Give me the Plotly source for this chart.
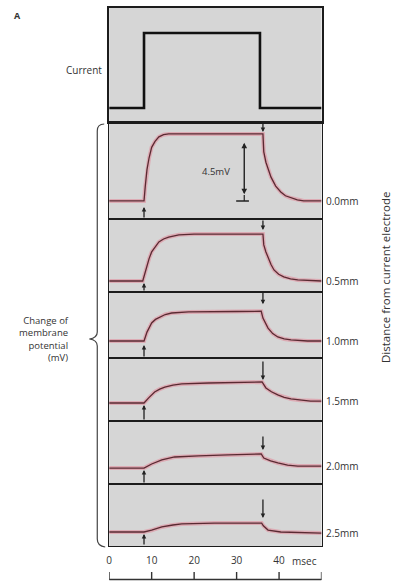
import plotly.graph_objects as go

W, H = 393, 581

# ---------------- data ----------------
time_current = [0, 8.2, 35.5, 50]
current_level = [0, 1, 0, 0]

t_00 = [0, 8.2, 8.5, 8.9, 9.4, 10.0, 10.8, 11.7, 12.8, 14.0, 20, 30, 36.2, 36.4, 36.9, 37.5, 38.1, 39.2, 40.4, 41.5, 42.8, 44.3, 45.8, 50]
v_00 = [0, 0, 1.0, 2.1, 2.9, 3.6, 4.0, 4.3, 4.45, 4.5, 4.5, 4.5, 4.5, 3.3, 2.6, 2.1, 1.6, 1.0, 0.6, 0.35, 0.2, 0.08, 0, 0]

t_05 = [0, 7.9, 8.4, 8.9, 9.4, 10.0, 10.8, 11.7, 12.8, 14.0, 16.4, 20, 36.2, 36.4, 36.9, 37.4, 38.1, 38.8, 39.9, 41.1, 42.7, 44.4, 50]
v_05 = [0, 0, 0.5, 1.07, 1.5, 1.95, 2.3, 2.62, 2.82, 2.95, 3.1, 3.15, 3.15, 2.42, 1.95, 1.54, 1.1, 0.74, 0.45, 0.27, 0.14, 0.07, 0]

t_10 = [0, 8.2, 8.9, 10.0, 10.9, 11.9, 13.2, 14.7, 18.7, 30, 35.8, 36.2, 36.8, 37.4, 38.5, 39.7, 41.2, 42.8, 46.7, 50]
v_10 = [0, 0, 0.6, 1.21, 1.45, 1.61, 1.78, 1.88, 1.95, 1.98, 2.0, 1.54, 1.2, 0.87, 0.5, 0.27, 0.14, 0.07, 0, 0]

t_15 = [0, 8.2, 9.3, 10.7, 11.9, 13.1, 15.0, 17.1, 23.4, 30, 36.0, 36.9, 38.2, 39.7, 41.2, 42.8, 45.0, 47.4, 50]
v_15 = [0, 0, 0.34, 0.74, 0.93, 1.07, 1.2, 1.28, 1.34, 1.38, 1.41, 1.01, 0.75, 0.54, 0.38, 0.27, 0.18, 0.13, 0.13]

t_20 = [0, 8.2, 10.0, 12.4, 15.4, 18.0, 21.0, 28.0, 35.8, 36.4, 38.0, 39.7, 42.0, 44.4, 50]
v_20 = [0, 0, 0.27, 0.54, 0.74, 0.79, 0.81, 0.88, 0.94, 0.67, 0.48, 0.34, 0.2, 0.13, 0.13]

t_25 = [0, 8.2, 10.0, 12.4, 15.0, 17.1, 24.8, 35.9, 36.3, 37.4, 40.4, 50]
v_25 = [0, 0, 0.12, 0.34, 0.47, 0.54, 0.6, 0.6, 0.42, 0.13, 0.0, -0.07]

voltage_times = [t_00, t_05, t_10, t_15, t_20, t_25]
voltage_values = [v_00, v_05, v_10, v_15, v_20, v_25]
distance_labels = ["0.0mm", "0.5mm", "1.0mm", "1.5mm", "2.0mm", "2.5mm"]

tick_vals = [0, 10, 20, 30, 40]
tick_text = ["0", "10", "20", "30", "40"]
ruler_ticks = [0, 10, 20, 30, 40, 50]

stim_on, stim_off = 8.2, 36.2
scale_mv = 4.5

# ---------------- layout helpers ----------------
def px(x):
    return x / W

def py(y):
    return 1 - y / H

X_L, X_R = 107, 321
panels = [(8, 122), (122, 219), (219, 292), (292, 358), (358, 421), (421, 484), (484, 546)]
yranges = [[-0.187, 1.333], [-1.21, 5.30], [-0.74, 4.16], [-1.14, 3.29],
           [-1.21, 3.02], [-1.07, 3.15], [-0.94, 3.22]]

# arrow geometry: (tip offset in mV, tail length px)
up_arrows = [(-0.4, 12), (-0.13, 9), (-0.27, 13), (-0.13, 16), (-0.13, 14), (-0.13, 12)]
down_arrows = [(0.13, 10), (0.27, 11), (0.47, 13), (0.13, 20), (0.27, 15), (0.34, 20)]

fig = go.Figure()

FONT = "Open Sans"
TXT = "#333333"
LINE = "#1c1c1c"

fig.add_trace(go.Scatter(x=time_current, y=current_level, mode="lines", line_shape="hv",
                         line=dict(color="#111111", width=2.6), xaxis="x", yaxis="y",
                         hoverinfo="skip", showlegend=False))

for i, (tt, vv) in enumerate(zip(voltage_times, voltage_values)):
    n = i + 2
    fig.add_trace(go.Scatter(x=tt, y=vv, mode="lines",
                             line=dict(color="rgba(228,120,140,0.45)", width=4),
                             xaxis=f"x{n}", yaxis=f"y{n}", hoverinfo="skip", showlegend=False))
    fig.add_trace(go.Scatter(x=tt, y=vv, mode="lines",
                             line=dict(color="#5a2a32", width=1.3),
                             xaxis=f"x{n}", yaxis=f"y{n}", hoverinfo="skip", showlegend=False))

layout = dict(width=W, height=H, autosize=False,
              margin=dict(l=0, r=0, t=0, b=0, pad=0),
              paper_bgcolor="white", plot_bgcolor="#d6d6d6",
              showlegend=False, font=dict(family=FONT, color=TXT, size=10))

for k, (top, bot) in enumerate(panels):
    n = k + 1
    xs = "" if n == 1 else str(n)
    is_bottom = (n == 7)
    lw = 2.2 if n == 1 else 1.3
    layout[f"xaxis{xs}"] = dict(domain=[px(X_L), px(X_R)], range=[0, 50], anchor=f"y{xs}",
                                showgrid=False, zeroline=False, showline=True, mirror=True,
                                linecolor=LINE, linewidth=lw,
                                showticklabels=is_bottom,
                                tickvals=tick_vals if is_bottom else [],
                                ticktext=tick_text if is_bottom else [],
                                ticks="outside" if is_bottom else "",
                                ticklen=5, tickcolor="rgba(0,0,0,0)",
                                tickfont=dict(size=10, color=TXT, family=FONT),
                                fixedrange=True)
    layout[f"yaxis{xs}"] = dict(domain=[py(bot), py(top)], range=yranges[k], anchor=f"x{xs}",
                                showgrid=False, zeroline=False, showline=True, mirror=True,
                                linecolor=LINE, linewidth=lw,
                                showticklabels=False, ticks="", fixedrange=True)

fig.update_layout(**layout)

annotations = []
annotations.append(dict(text="<b>A</b>", x=px(15), y=py(15), xref="paper", yref="paper",
                        xanchor="center", yanchor="middle",
                        showarrow=False, font=dict(size=9, color=TXT, family=FONT)))
annotations.append(dict(text="Current", x=px(102), y=py(70), xref="paper", yref="paper",
                        xanchor="right", yanchor="middle", showarrow=False,
                        font=dict(size=10, color=TXT, family=FONT)))
annotations.append(dict(text="Change of<br>membrane<br>potential<br>(mV)", x=px(69), y=py(339),
                        xref="paper", yref="paper", xanchor="right", yanchor="middle",
                        align="right", showarrow=False,
                        font=dict(size=9.5, color=TXT, family=FONT)))
annotations.append(dict(text="Distance from current electrode", x=px(385), y=py(278),
                        xref="paper", yref="paper", textangle=-90, showarrow=False,
                        xanchor="center", yanchor="middle",
                        font=dict(size=11.5, color=TXT, family=FONT)))
annotations.append(dict(text="msec", x=46, y=py(561), xref="x7", yref="paper",
                        xanchor="center", yanchor="middle", showarrow=False,
                        font=dict(size=10, color=TXT, family=FONT)))

for i, (lab, vv) in enumerate(zip(distance_labels, voltage_values)):
    n = i + 2
    annotations.append(dict(text=lab, x=px(323), y=vv[-1], xref="paper", yref=f"y{n}",
                            xanchor="left", yanchor="middle", showarrow=False,
                            font=dict(size=10, color=TXT, family=FONT)))
    amp = max(vv)
    tip_up, len_up = up_arrows[i]
    annotations.append(dict(x=stim_on, y=tip_up, xref=f"x{n}", yref=f"y{n}", ax=0, ay=len_up,
                            text="", showarrow=True, arrowhead=2, arrowsize=0.7,
                            arrowwidth=1.3, arrowcolor="#222", standoff=0))
    tip_dn, len_dn = down_arrows[i]
    annotations.append(dict(x=stim_off, y=amp + tip_dn, xref=f"x{n}", yref=f"y{n}", ax=0,
                            ay=-len_dn, text="", showarrow=True, arrowhead=2, arrowsize=0.7,
                            arrowwidth=1.3, arrowcolor="#222", standoff=0))

# scale bar 4.5 mV in first voltage panel
annotations.append(dict(x=31.8, y=scale_mv * 0.87, ax=31.8, ay=0.35, xref="x2", yref="y2",
                        axref="x2", ayref="y2", text="", showarrow=True, arrowhead=2,
                        startarrowhead=2, arrowside="end+start", arrowsize=0.8,
                        startarrowsize=0.8, arrowwidth=1.4, arrowcolor="#222", standoff=0,
                        startstandoff=0))
annotations.append(dict(text=f"{scale_mv}mV", x=25.2, y=1.95, xref="x2", yref="y2",
                        xanchor="center", yanchor="middle",
                        showarrow=False, font=dict(size=9.5, color=TXT, family=FONT)))

fig.update_layout(annotations=annotations)

shapes = [
    dict(type="line", xref="x2", yref="y2", x0=29.9, x1=32.9, y0=0, y1=0,
         line=dict(color="#222", width=1.6)),
    dict(type="line", xref="x2", yref="y2", x0=31.8, x1=31.8, y0=0, y1=0.4,
         line=dict(color="#222", width=1.2)),
]

# time ruler below the axis labels, ticks placed on the x scale
shapes.append(dict(type="line", xref="x7", yref="paper", x0=ruler_ticks[0], x1=ruler_ticks[-1],
                   y0=py(579.5), y1=py(579.5), line=dict(color="#333", width=1.4)))
for tv in ruler_ticks:
    shapes.append(dict(type="line", xref="x7", yref="paper", x0=tv, x1=tv,
                       y0=py(580), y1=py(572), line=dict(color="#333", width=1.4)))

# left curly brace
def P(x, y):
    return f"{px(x):.5f},{py(y):.5f}"

brace = (f"M {P(102,124)} Q {P(95,124)} {P(95,131)} L {P(95,332)} "
         f"Q {P(95,338)} {P(87,339)} Q {P(95,340)} {P(95,346)} L {P(95,539)} "
         f"Q {P(95,546)} {P(103,547)}")
shapes.append(dict(type="path", xref="paper", yref="paper", path=brace,
                   line=dict(color="#444", width=1.2)))

fig.update_layout(shapes=shapes)

fig.write_html("out.html", config={"displayModeBar": False},
               post_script="document.body.style.margin='0';document.body.style.overflow='hidden';")
